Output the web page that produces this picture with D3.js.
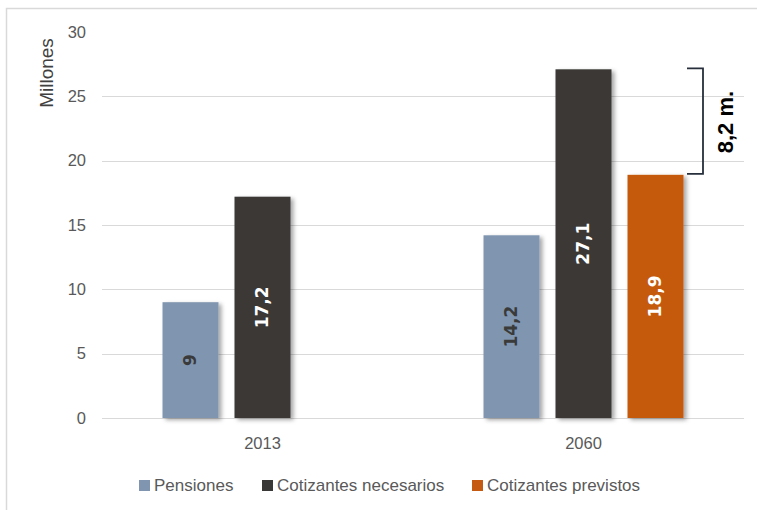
<!DOCTYPE html>
<html>
<head>
<meta charset="utf-8">
<script src="https://cdn.jsdelivr.net/npm/d3@7/dist/d3.min.js"></script>
<style>
  html, body { margin: 0; padding: 0; background: #fff; }
  svg { display: block; }
</style>
</head>
<body>
<script>
// Data
const years = ["2013", "2060"];
const seriesNames = ["Pensiones", "Cotizantes necesarios", "Cotizantes previstos"];
const pensiones = [9, 14.2];
const necesarios = [17.2, 27.1];
const previstos = [null, 18.9];
const yTicks = [0, 5, 10, 15, 20, 25, 30];
const gapLabel = "8,2 m.";

const colors = ["#8096b0", "#3a3836", "#c55a11"];
const labelColors = ["#3a3a3a", "#ffffff", "#ffffff"];

const W = 757, H = 510;
const margin = { left: 102, right: 13 };

const svg = d3.select("body").append("svg").attr("width", W).attr("height", H);

const defs = svg.append("defs");
const f = defs.append("filter").attr("id", "shadow")
  .attr("x", "-20%").attr("y", "-10%").attr("width", "150%").attr("height", "130%");
f.append("feDropShadow").attr("dx", 3).attr("dy", 2).attr("stdDeviation", 2.2)
  .attr("flood-color", "#000").attr("flood-opacity", 0.35);

// chart area border
svg.append("rect").attr("x", 6.5).attr("y", 8.5).attr("width", 770).attr("height", 520)
  .attr("fill", "none").attr("stroke", "#d9d9d9").attr("stroke-width", 1.5);

const groupW = 200;
const x0 = d3.scaleBand().domain(years).range([margin.left, W - margin.right]);
const x1 = d3.scaleBand().domain(seriesNames).range([0, groupW]).paddingInner(16 / 72).paddingOuter(0);
const y = d3.scaleLinear().domain([0, 30]).range([418, 32]);

const font = "'Liberation Sans', Arial, sans-serif";

// gridlines
svg.append("g").selectAll("line").data(yTicks.filter(d => d !== 30)).join("line")
  .attr("x1", margin.left).attr("x2", W - margin.right)
  .attr("y1", d => Math.round(y(d)) + 0.5).attr("y2", d => Math.round(y(d)) + 0.5)
  .attr("stroke", "#d9d9d9").attr("stroke-width", 1);

// y axis labels
const yAxis = d3.axisLeft(y).tickValues(yTicks).tickSize(0).tickPadding(16);
svg.append("g").attr("transform", `translate(${margin.left},0)`).call(yAxis)
  .call(g => g.select(".domain").remove())
  .selectAll("text").attr("font-family", font).attr("font-size", 16.5).attr("fill", "#595959");

svg.append("text").attr("transform", "translate(53,73) rotate(-90)")
  .attr("text-anchor", "middle").attr("font-family", font).attr("font-size", 19)
  .attr("fill", "#404040").text("Millones");

// x axis labels
const xAxis = d3.axisBottom(x0).tickSize(0).tickPadding(19);
svg.append("g").attr("transform", "translate(0,418)").call(xAxis)
  .call(g => g.select(".domain").remove())
  .selectAll("text").attr("font-family", font).attr("font-size", 16.5).attr("fill", "#595959");

// bars
const rows = years.map((yr, i) => ({
  year: yr,
  vals: [pensiones[i], necesarios[i], previstos[i]]
}));

const bw = x1.bandwidth();
rows.forEach(r => {
  const gx = x0(r.year) + (x0.bandwidth() - groupW) / 2;
  const g = svg.append("g").attr("transform", `translate(${gx},0)`);
  const items = r.vals.map((v, k) => ({ v, k })).filter(d => d.v != null);
  g.selectAll("rect").data(items).join("rect")
    .attr("x", d => x1(seriesNames[d.k]))
    .attr("y", d => y(d.v))
    .attr("width", bw)
    .attr("height", d => y(0) - y(d.v))
    .attr("fill", d => colors[d.k])
    .attr("filter", "url(#shadow)");
  g.selectAll("text.val").data(items).join("text").attr("class", "val")
    .attr("transform", d => `translate(${x1(seriesNames[d.k]) + bw / 2 + 5},${(y(d.v) + y(0)) / 2}) rotate(-90)`)
    .attr("text-anchor", "middle")
    .attr("font-family", "'DejaVu Sans', sans-serif").attr("font-weight", "bold").attr("font-size", 17)
    .attr("fill", d => labelColors[d.k])
    .text(d => String(d.v).replace(".", ","));
});

// gap bracket between required and expected contributors in 2060
const yTop = y(necesarios[1]), yBot = y(previstos[1]);
const bx = 703;
svg.append("path")
  .attr("d", `M687,${yTop - 1} H${bx} V${yBot - 1} H687`)
  .attr("fill", "none").attr("stroke", "#262f3b").attr("stroke-width", 1.8);
svg.append("text")
  .attr("transform", `translate(733,${(yTop + yBot) / 2}) rotate(-90)`)
  .attr("text-anchor", "middle").attr("font-family", font).attr("font-weight", "bold")
  .attr("font-size", 22).attr("fill", "#000").text(gapLabel);

// legend
const legendX = [139, 262, 472];
const lg = svg.append("g");
seriesNames.forEach((n, i) => {
  lg.append("rect").attr("x", legendX[i]).attr("y", 480).attr("width", 11).attr("height", 11).attr("fill", colors[i]);
  lg.append("text").attr("x", legendX[i] + 15).attr("y", 491)
    .attr("font-family", font).attr("font-size", 17).attr("fill", "#595959").text(n);
});
</script>
</body>
</html>
